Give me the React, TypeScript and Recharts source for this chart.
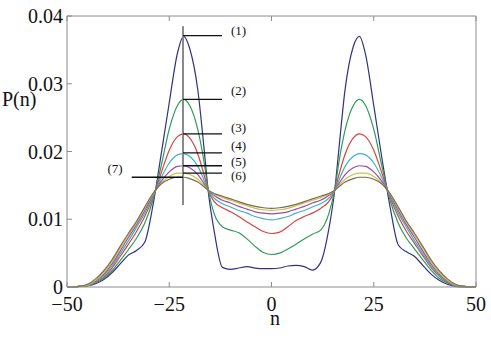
import React from "react";
import {
  LineChart,
  Line,
  XAxis,
  YAxis,
  ReferenceLine,
} from "recharts";

// sample positions along n
const N = [
  -50, -47, -45, -43, -41, -39, -37, -35, -33, -31, -29, -27, -25, -23, -21.5, -20, -18, -16.5, -15.5, -14, -12, -10,
  -8, -6, -4, -2, 0, 2, 4, 6, 8, 10, 12, 14, 15.5, 16.5, 18, 20, 21.5, 23, 25, 27, 29, 31, 33, 35, 37, 39, 41, 43,
  45, 47, 50,
];

// P(n), curves (1)..(7)
const P1 = [
  0, 0.0001, 0.0002, 0.0005, 0.0011, 0.0021, 0.0034, 0.0047, 0.0054, 0.0066, 0.012, 0.0195, 0.0272, 0.0345, 0.037,
  0.0352, 0.029, 0.0205, 0.0143, 0.0082, 0.0029, 0.0026, 0.0028, 0.003, 0.0028, 0.0027, 0.0027, 0.0028, 0.0031, 0.0032,
  0.003, 0.0025, 0.0036, 0.0085, 0.0145, 0.0205, 0.0292, 0.0355, 0.037, 0.0343, 0.0268, 0.019, 0.0118, 0.0062, 0.0052,
  0.0045, 0.0032, 0.0019, 0.001, 0.0004, 0.0001, 0, 0,
];
const P2 = [
  0, 0.0001, 0.0002, 0.0006, 0.0013, 0.0024, 0.0039, 0.0055, 0.0072, 0.0094, 0.0128, 0.0178, 0.0233, 0.0268, 0.0277,
  0.0268, 0.0232, 0.0185, 0.0145, 0.0108, 0.0089, 0.0084, 0.008, 0.0071, 0.006, 0.0051, 0.0048, 0.005, 0.0056, 0.0063,
  0.0071, 0.0078, 0.0084, 0.0108, 0.0145, 0.0185, 0.0232, 0.0268, 0.0277, 0.0268, 0.0233, 0.0178, 0.0128, 0.0094,
  0.0072, 0.0056, 0.004, 0.0025, 0.0013, 0.0006, 0.0002, 0.0001, 0,
];
const P3 = [
  0, 0.0001, 0.0002, 0.0007, 0.0015, 0.0028, 0.0045, 0.0063, 0.0082, 0.0104, 0.0132, 0.0168, 0.0202, 0.0222, 0.0226,
  0.022, 0.0196, 0.0166, 0.0143, 0.0126, 0.0117, 0.0111, 0.0104, 0.0096, 0.0089, 0.0082, 0.0079, 0.0081, 0.0089,
  0.0098, 0.0104, 0.0109, 0.0116, 0.0126, 0.0143, 0.0166, 0.0196, 0.022, 0.0226, 0.0222, 0.0202, 0.0168, 0.0132,
  0.0104, 0.0082, 0.0064, 0.0046, 0.0029, 0.0016, 0.0007, 0.0002, 0.0001, 0,
];
const P4 = [
  0, 0.0001, 0.0002, 0.0008, 0.0017, 0.0031, 0.0049, 0.0068, 0.0088, 0.0109, 0.0134, 0.0161, 0.0183, 0.0195, 0.0197,
  0.0193, 0.0178, 0.0158, 0.0143, 0.0131, 0.0123, 0.0118, 0.0113, 0.0109, 0.0104, 0.0101, 0.0099, 0.0101, 0.0104,
  0.0109, 0.0113, 0.0118, 0.0123, 0.0131, 0.0143, 0.0158, 0.0178, 0.0193, 0.0197, 0.0195, 0.0183, 0.0161, 0.0134,
  0.0109, 0.0088, 0.0068, 0.0049, 0.0031, 0.0017, 0.0008, 0.0002, 0.0001, 0,
];
const P5 = [
  0, 0.0001, 0.0003, 0.0009, 0.0019, 0.0034, 0.0053, 0.0073, 0.0092, 0.0113, 0.0136, 0.0156, 0.017, 0.0178, 0.0179,
  0.0176, 0.0166, 0.0153, 0.0143, 0.0135, 0.0128, 0.0124, 0.0119, 0.0115, 0.0111, 0.0109, 0.0108, 0.0109, 0.0111,
  0.0115, 0.0119, 0.0124, 0.0128, 0.0135, 0.0143, 0.0153, 0.0166, 0.0176, 0.0179, 0.0178, 0.017, 0.0156, 0.0136,
  0.0113, 0.0092, 0.0073, 0.0053, 0.0034, 0.0019, 0.0009, 0.0003, 0.0001, 0,
];
const P6 = [
  0, 0.0001, 0.0003, 0.001, 0.0021, 0.0037, 0.0057, 0.0076, 0.0095, 0.0116, 0.0137, 0.0153, 0.0163, 0.0168, 0.0168,
  0.0166, 0.0159, 0.015, 0.0143, 0.0137, 0.0132, 0.0128, 0.0124, 0.012, 0.0116, 0.0114, 0.0113, 0.0114, 0.0116, 0.012,
  0.0124, 0.0128, 0.0132, 0.0137, 0.0143, 0.015, 0.0159, 0.0166, 0.0168, 0.0168, 0.0163, 0.0153, 0.0137, 0.0116,
  0.0095, 0.0076, 0.0057, 0.0037, 0.0021, 0.001, 0.0003, 0.0001, 0,
];
const P7 = [
  0, 0.0001, 0.0004, 0.0012, 0.0024, 0.004, 0.006, 0.0079, 0.0097, 0.0118, 0.0138, 0.0152, 0.0159, 0.0162, 0.0162,
  0.016, 0.0155, 0.0148, 0.0143, 0.0138, 0.0134, 0.013, 0.0126, 0.0122, 0.0119, 0.0117, 0.0116, 0.0117, 0.0119, 0.0122,
  0.0126, 0.013, 0.0134, 0.0138, 0.0143, 0.0148, 0.0155, 0.016, 0.0162, 0.0162, 0.0159, 0.0152, 0.0138, 0.0118, 0.0097,
  0.0079, 0.006, 0.004, 0.0024, 0.0012, 0.0004, 0.0001, 0,
];

const SERIES = [P1, P2, P3, P4, P5, P6, P7];
const COLORS = ["#32327e", "#2f9a5c", "#d5463f", "#3cb2c6", "#a246ad", "#c8c24a", "#7a6c4e"];

const X_TICKS = [-50, -25, 0, 25, 50];
const Y_TICKS = [0, 0.01, 0.02, 0.03, 0.04];

// annotation markers
const MARK_X = -21.64;
const MARK_END = -12.1;
const MARKS = [
  { text: "(1)", y: 0.0371, dy: -1 },
  { text: "(2)", y: 0.0277, dy: -4 },
  { text: "(3)", y: 0.0226, dy: -2 },
  { text: "(4)", y: 0.0198, dy: -3 },
  { text: "(5)", y: 0.0179, dy: 0 },
  { text: "(6)", y: 0.0168, dy: 7 },
];
const MARK7 = { text: "(7)", y: 0.0162, x0: -34.18 };

const data = N.map((n, i) => {
  const row: Record<string, number> = { n };
  SERIES.forEach((s, k) => {
    row[`p${k + 1}`] = s[i];
  });
  return row;
});

const FONT = '"Liberation Serif", "DejaVu Serif", serif';
const AXIS_COLOR = "#8c8c8c";

const fmtX = (v: number) => (v < 0 ? `\u2212${Math.abs(v)}` : `${v}`);
const fmtY = (v: number) => (v === 0 ? "0" : v.toFixed(2));

// tick text with explicit serif font
const XTick = (props: any) => {
  const { x, y, payload } = props;
  return (
    <text x={x} y={y} dy={14} textAnchor="middle" fontSize={20} fill="#111" style={{ fontFamily: FONT }}>
      {fmtX(payload.value)}
    </text>
  );
};
const YTick = (props: any) => {
  const { x, y, payload } = props;
  return (
    <text x={x} y={y} dy={7} textAnchor="end" fontSize={20} fill="#111" style={{ fontFamily: FONT }}>
      {fmtY(payload.value)}
    </text>
  );
};

const markLabel = (text: string, dx: number, dy: number, anchor: "start" | "end") => (props: any) => {
  const vb = props.viewBox || {};
  const x = anchor === "start" ? vb.x + vb.width + dx : vb.x - dx;
  return (
    <text x={x} y={vb.y + dy} textAnchor={anchor} fontSize={13} fill="#111" style={{ fontFamily: FONT }}>
      {text}
    </text>
  );
};

export default function App() {
  return (
    <div
      style={{
        position: "absolute",
        left: 0,
        top: 0,
        width: 491,
        height: 344,
        overflow: "hidden",
        background: "#fff",
        fontFamily: FONT,
      }}
    >
      <LineChart width={491} height={344} data={data} margin={{ top: 15, right: 14, bottom: 0, left: 0 }}>
        <XAxis
          dataKey="n"
          type="number"
          domain={[-50, 50]}
          ticks={X_TICKS}
          interval={0}
          tick={<XTick />}
          tickSize={-5}
          tickMargin={15}
          height={57}
          stroke={AXIS_COLOR}
          allowDataOverflow
        />
        <XAxis
          xAxisId="top"
          orientation="top"
          dataKey="n"
          type="number"
          domain={[-50, 50]}
          ticks={X_TICKS}
          tickFormatter={() => ""}
          tickSize={-5}
          height={1}
          stroke={AXIS_COLOR}
        />
        <YAxis
          type="number"
          domain={[0, 0.04]}
          ticks={Y_TICKS}
          interval={0}
          tick={<YTick />}
          tickSize={-5}
          tickMargin={9}
          width={67}
          stroke={AXIS_COLOR}
        />
        <YAxis
          yAxisId="right"
          orientation="right"
          type="number"
          domain={[0, 0.04]}
          ticks={Y_TICKS}
          tickFormatter={() => ""}
          tickSize={-5}
          width={1}
          stroke={AXIS_COLOR}
        />

        {SERIES.map((_, k) => (
          <Line
            key={k}
            type="monotone"
            dataKey={`p${k + 1}`}
            stroke={COLORS[k]}
            strokeWidth={1.2}
            dot={false}
            isAnimationActive={false}
          />
        ))}

        <ReferenceLine
          segment={[
            { x: MARK_X, y: 0.0385 },
            { x: MARK_X, y: 0.0121 },
          ]}
          stroke="#8a8a8a"
          strokeWidth={2}
        />
        {MARKS.map((m) => (
          <ReferenceLine
            key={m.text}
            segment={[
              { x: MARK_X, y: m.y },
              { x: MARK_END, y: m.y },
            ]}
            stroke="#111"
            strokeWidth={1.3}
            label={markLabel(m.text, 9, m.dy, "start")}
          />
        ))}
        <ReferenceLine
          segment={[
            { x: MARK7.x0, y: MARK7.y },
            { x: MARK_X, y: MARK7.y },
          ]}
          stroke="#111"
          strokeWidth={1.3}
          label={markLabel(MARK7.text, 9, -4, "end")}
        />
      </LineChart>
      <div
        style={{
          position: "absolute",
          left: 2,
          top: 87,
          fontSize: 20,
          lineHeight: "24px",
          color: "#111",
          whiteSpace: "nowrap",
        }}
      >
        P(n)
      </div>
      <div style={{ position: "absolute", left: 270, top: 306, fontSize: 20, lineHeight: "24px", color: "#111" }}>
        n
      </div>
    </div>
  );
}
